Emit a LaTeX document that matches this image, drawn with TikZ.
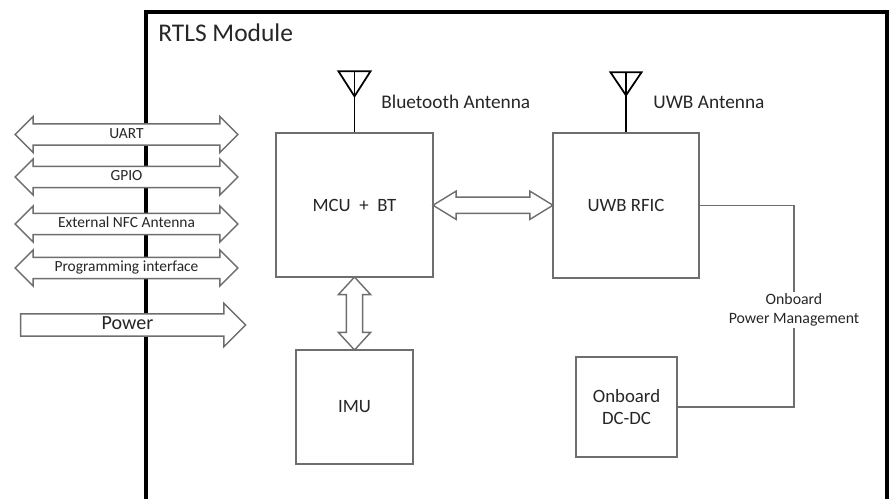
\documentclass[tikz,border=0pt]{standalone}
\usepackage{fontspec}
\setmainfont{Carlito}
\usetikzlibrary{shapes.arrows,calc}
\definecolor{boxgray}{HTML}{6E6E6E}
\definecolor{textgray}{HTML}{262626}
\begin{document}
\begin{tikzpicture}[x=0.02cm, y=-0.02cm, text=textgray,
    block/.style={rectangle, draw=boxgray, line width=0.8pt, inner sep=0pt, align=center, font=\fontsize{10.7}{13}\selectfont},
    port/.style={double arrow, draw=boxgray, fill=white, line width=0.8pt, inner xsep=0pt, inner ysep=1.6pt,
        text height=6.3pt, text depth=1.8pt, minimum height=4.46cm, minimum width=0pt,
        double arrow head extend=0.15cm, double arrow tip angle=90, font=\fontsize{8.8}{10}\selectfont},
    link/.style={double arrow, draw=boxgray, fill=white, line width=0.8pt, inner xsep=0pt, inner ysep=4.25pt, minimum width=0pt},
    wire/.style={draw=boxgray, line width=0.8pt},
    antenna/.style={draw=black, line width=1pt},
    label/.style={anchor=west, inner sep=0pt, font=\fontsize{11}{13}\selectfont}]

\useasboundingbox (0,0) rectangle (894,498);

% module frame, open at the bottom
\draw[line width=2pt] (146,510) -- (146,12) -- (887,12) -- (887,510);
\node[label, font=\fontsize{14.5}{16}\selectfont] (title) at (158,33) {RTLS Module};

% blocks
\node[block, minimum width=3.14cm, minimum height=2.88cm] (mcu) at (354.5,205) {MCU\hspace{2.5pt} + \hspace{2.5pt}BT};
\node[block, minimum width=2.92cm, minimum height=2.9cm] (uwb) at (626,205.5) {UWB RFIC};
\node[block, minimum width=2.34cm, minimum height=2.28cm] (imu) at (354.5,407) {IMU};
\node[block, minimum width=2.02cm, minimum height=2cm] (dcdc) at (626.5,407) {Onboard\\DC-DC};

% antennas
\coordinate (btant) at ($(mcu.north)+(0,-61)$);
\coordinate (uwbant) at ($(uwb.north)+(0,-60)$);
\draw[antenna] (btant) -- (mcu.north);
\draw[antenna] ($(btant)+(-16,0)$) -- ($(btant)+(16,0)$) -- ($(btant)+(0,25)$) -- cycle;
\draw[antenna] (uwbant) -- (uwb.north);
\draw[antenna] ($(uwbant)+(-15.5,0)$) -- ($(uwbant)+(15.5,0)$) -- ($(uwbant)+(0,23)$) -- cycle;
\node[label] (btlabel) at (381,102) {Bluetooth Antenna};
\node[label] (uwblabel) at (653,102) {UWB Antenna};

% internal buses
\node[link, minimum height=2.4cm, double arrow head extend=0.12cm,
    double arrow tip angle=63] (mcuuwb) at ($(mcu.east)!0.5!(uwb.west)$) {};
\node[link, rotate=90, minimum height=1.46cm, double arrow head extend=0.16cm,
    double arrow tip angle=85] (mcuimu) at ($(mcu.south)!0.5!(imu.north)$) {};

% power management
\node[align=center, inner sep=1pt, font=\fontsize{9}{10.8}\selectfont] (pm) at (794,310) {Onboard\\Power Management};
\draw[wire] (uwb.east) -| (pm.north);
\draw[wire] (pm.south) |- (dcdc.east);

% external interfaces
\node[port] (uart) at (126.5,134.5) {UART};
\node[port] (gpio) at (126.5,177) {GPIO};
\node[port] (nfc) at (126.5,224) {External NFC Antenna};
\node[port] (prog) at (126.5,268) {Programming interface};
\node[single arrow, draw=boxgray, fill=white, line width=0.8pt, inner xsep=0pt, inner ysep=0.75pt,
    text height=8pt, text depth=2.4pt, minimum height=4.5cm, minimum width=0pt,
    single arrow head extend=0.21cm, font=\fontsize{11.4}{13}\selectfont] (pwr) at (127.5,325) {Power};
\end{tikzpicture}
\end{document}
